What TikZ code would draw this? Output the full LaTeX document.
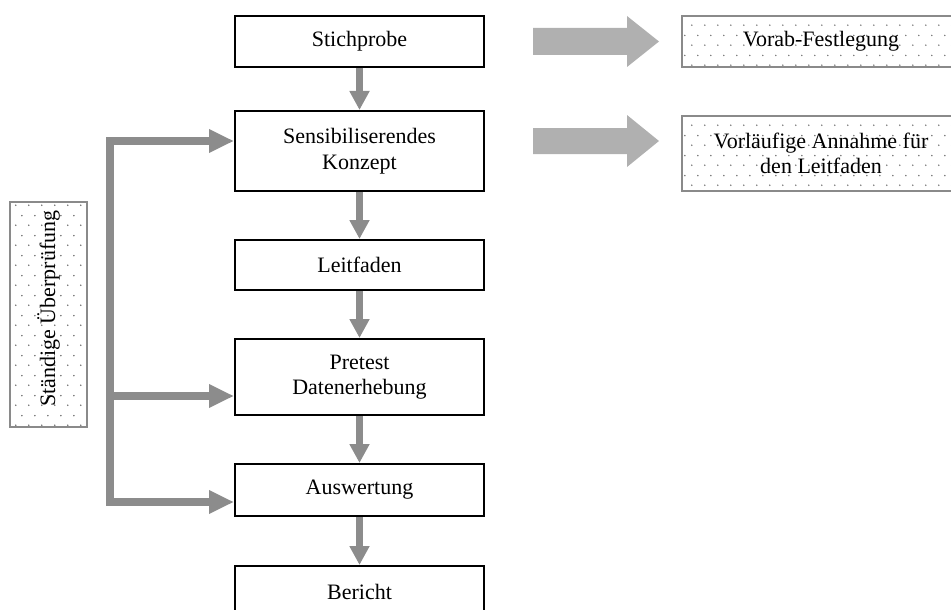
\documentclass[tikz,border=0pt]{standalone}
\usepackage{fontspec}
\setmainfont{Liberation Serif}
\usetikzlibrary{arrows.meta,patterns.meta}

\definecolor{flowgray}{HTML}{8C8C8C}
\definecolor{blockgray}{HTML}{B0B0B0}
\definecolor{edgegray}{HTML}{8A8A8A}

% sparse, staggered dot raster for the annotation boxes
\tikzdeclarepattern{
  name=sparsedots,
  type=uncolored,
  bounding box={(0pt,0pt) and (13pt,20pt)},
  tile size={(13pt,20pt)},
  code={
    \fill (3pt,5pt) circle[radius=0.9pt];
    \fill (9.5pt,15pt) circle[radius=0.9pt];
  }
}

\begin{document}
\begin{tikzpicture}[x=1pt,y=-1pt,
  every node/.style={font=\fontsize{22}{25.5}\selectfont, inner sep=0pt},
  stepbox/.style={draw=black, line width=2pt, minimum width=249pt, align=center, fill=white},
  notebox/.style={draw=edgegray, line width=1.5pt, pattern=sparsedots,
                  pattern color=gray!90!black, align=center},
  flow/.style={draw=flowgray, line width=7pt, -{Triangle[length=19pt,width=19pt]}},
  feed/.style={draw=flowgray, line width=7.5pt, line join=miter,
               -{Triangle[length=25pt,width=22pt]}},
  block/.style={fill=blockgray},
]
\useasboundingbox (0,0) rectangle (951,610);
\clip (0,0) rectangle (951,610);

% process steps
\node[stepbox, minimum height=51pt] (stich) at (359.5,41.5)  {Stichprobe};
\node[stepbox, minimum height=80pt] (sens)  at (359.5,151)   {Sensibiliserendes\\Konzept};
\node[stepbox, minimum height=50pt] (leit)  at (359.5,265)   {Leitfaden};
\node[stepbox, minimum height=76pt] (pre)   at (359.5,377)   {Pretest\\Datenerhebung};
\node[stepbox, minimum height=52pt] (ausw)  at (359.5,490)   {Auswertung};
\node[stepbox, minimum height=52pt] (ber)   at (359.5,592)   {Bericht};

% annotation boxes
\node[notebox, minimum width=278pt, minimum height=51pt] (vorab) at (821,41.5)  {Vorab-Festlegung};
\node[notebox, minimum width=278pt, minimum height=75pt] (vorl)  at (821,153.5) {Vorläufige Annahme für\\den Leitfaden};
\node[notebox, rotate=90, minimum width=225pt, minimum height=77pt] (check) at (48.5,314.5) {\hspace*{12pt}Ständige Überprüfung};

% downward flow between steps
\draw[flow] (stich.south) -- (sens.north);
\draw[flow] (sens.south)  -- (leit.north);
\draw[flow] (leit.south)  -- (pre.north);
\draw[flow] (pre.south)   -- (ausw.north);
\draw[flow] (ausw.south)  -- (ber.north);

% feedback bracket on the left
\coordinate (t1) at (110,141);
\coordinate (t2) at (110,396);
\coordinate (t3) at (110,502);
\draw[feed] (t3) -- (t1) -- (t1 -| sens.west);
\draw[feed] (t1) -- (t3) -- (t3 -| ausw.west);
\draw[feed] (t2) -- (t2 -| pre.west);

% block arrows towards the annotation boxes
\fill[block] (533,28) -- (627,28) -- (627,16) -- (659,41.5) -- (627,67) -- (627,55) -- (533,55) -- cycle;
\fill[block] (533,128) -- (627,128) -- (627,115) -- (659,141) -- (627,167) -- (627,154) -- (533,154) -- cycle;
\end{tikzpicture}
\end{document}
